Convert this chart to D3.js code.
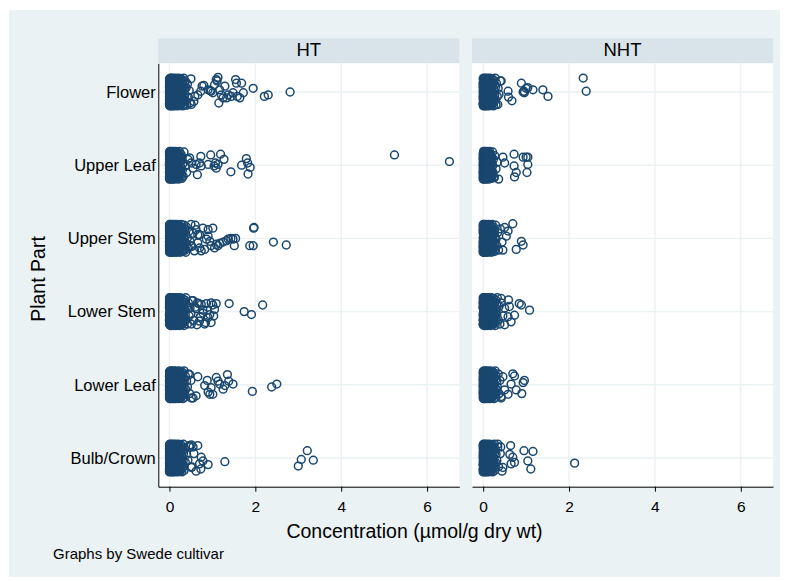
<!DOCTYPE html>
<html>
<head>
<meta charset="utf-8">
<script src="https://cdn.jsdelivr.net/npm/d3@7"></script>
<style>
  body { margin: 0; background: #ffffff; }
  svg { display: block; font-family: "Liberation Sans", Arial, Helvetica, sans-serif; }
</style>
</head>
<body>
<svg id="chart" width="789" height="581"></svg>
<script>
// ---- data -------------------------------------------------------------
const categories = ["Flower", "Upper Leaf", "Upper Stem", "Lower Stem", "Lower Leaf", "Bulb/Crown"];
const panelNames = ["HT", "NHT"];
const xTicks = [0, 2, 4, 6];

// Low concentrations (the bulk of the samples), one string per plant part.
// Each entry is "value in hundredths : number of samples at that value".
const htCore = [
  "0:14 1:10 2:10 3:9 4:9 5:8 6:8 7:7 8:7 9:7 10:6 11:6 12:6 13:5 14:5 15:5 16:5 17:4 18:4 19:4 20:4 21:4 22:4 23:3 24:3 25:3 26:3 27:3 28:3 29:3 30:3 31:2 32:2 33:2 34:2 35:2 36:2 37:1 38:1 39:1 40:1 42:1 44:1 46:1 48:1 50:1",
  "0:14 1:10 2:10 3:9 4:9 5:8 6:8 7:7 8:7 9:6 10:6 11:5 12:5 13:5 14:4 15:4 16:4 17:4 18:3 19:3 20:3 21:3 22:3 23:2 24:2 25:2 26:2 27:2 28:2 29:2 30:1 31:1 32:1 34:1 37:1 40:1 43:1",
  "0:14 1:10 2:10 3:9 4:9 5:8 6:8 7:7 8:7 9:7 10:6 11:6 12:6 13:5 14:5 15:5 16:5 17:4 18:4 19:4 20:4 21:4 22:4 23:3 24:3 25:3 26:3 27:3 28:3 29:3 30:3 31:2 32:2 33:2 34:2 35:2 36:2 37:2 38:1 39:1 40:1 42:1 44:1 46:1 48:1 50:1 52:1 55:1 58:1 62:1 66:1 70:1",
  "0:14 1:10 2:10 3:9 4:9 5:8 6:8 7:7 8:7 9:7 10:6 11:6 12:6 13:5 14:5 15:5 16:5 17:4 18:4 19:4 20:4 21:4 22:4 23:3 24:3 25:3 26:3 27:3 28:3 29:3 30:3 31:2 32:2 33:2 34:2 35:2 36:2 37:2 38:1 39:1 40:1 42:1 44:1 46:1 48:1 50:1 52:1 56:1 60:1 64:1 68:1 72:1 78:1 84:1",
  "0:14 1:10 2:10 3:9 4:9 5:8 6:8 7:7 8:7 9:7 10:6 11:6 12:6 13:5 14:5 15:5 16:5 17:4 18:4 19:4 20:4 21:4 22:4 23:3 24:3 25:3 26:3 27:3 28:3 29:3 30:3 31:2 32:2 33:2 34:2 35:2 36:1 37:1 38:1 40:1 42:1 44:1 47:1 50:1 55:1",
  "0:14 1:10 2:10 3:9 4:9 5:8 6:8 7:7 8:7 9:7 10:6 11:6 12:6 13:5 14:5 15:5 16:5 17:4 18:4 19:4 20:4 21:4 22:3 23:3 24:3 25:3 26:3 27:3 28:3 29:2 30:2 31:2 32:2 33:2 34:1 35:1 37:1 40:1 43:1 47:1 52:1 57:1 62:1"
];
const nhtCore = [
  "0:13 1:10 2:9 3:9 4:8 5:8 6:7 7:7 8:6 9:6 10:6 11:5 12:5 13:5 14:4 15:4 16:4 17:4 18:3 19:3 20:3 21:3 22:3 23:2 24:2 25:2 26:2 27:2 28:2 29:1 30:1 31:1 33:1 35:1 37:1 40:1",
  "0:13 1:10 2:9 3:9 4:8 5:8 6:7 7:7 8:6 9:6 10:5 11:5 12:4 13:4 14:4 15:3 16:3 17:3 18:3 19:2 20:2 21:2 22:2 23:1 24:1 25:1 27:1 30:1 33:1 36:1",
  "0:13 1:10 2:9 3:9 4:8 5:8 6:7 7:7 8:6 9:6 10:6 11:5 12:5 13:5 14:4 15:4 16:4 17:4 18:3 19:3 20:3 21:3 22:3 23:2 24:2 25:2 26:2 27:2 28:2 29:1 30:1 32:1 34:1 36:1 40:1 44:1",
  "0:13 1:10 2:9 3:9 4:8 5:8 6:7 7:7 8:6 9:6 10:6 11:5 12:5 13:5 14:4 15:4 16:4 17:4 18:3 19:3 20:3 21:3 22:3 23:3 24:3 25:2 26:2 27:2 28:2 29:2 30:2 31:1 32:1 33:1 35:1 37:1 39:1 42:1 46:1 50:1",
  "0:13 1:10 2:9 3:9 4:8 5:8 6:7 7:7 8:6 9:6 10:6 11:5 12:5 13:5 14:4 15:4 16:4 17:4 18:3 19:3 20:3 21:3 22:3 23:3 24:3 25:2 26:2 27:2 28:2 29:2 30:2 31:1 32:1 33:1 35:1 37:1 39:1 42:1 46:1 50:1",
  "0:13 1:10 2:9 3:9 4:8 5:8 6:7 7:7 8:6 9:6 10:6 11:5 12:5 13:5 14:4 15:4 16:4 17:4 18:3 19:3 20:3 21:3 22:3 23:2 24:2 25:2 26:2 27:2 28:1 29:1 30:1 32:1 34:1 36:1 40:1 44:1"
];

// Higher concentrations: [value, jitter in category units].
const htFlowerTail = [[0.36,0.18],[0.51,0.17],[0.57,0.13],[0.59,0.06],[0.66,0.04],[0.73,-0.01],[0.76,-0.08],[0.80,-0.09],[0.90,-0.03],[0.95,-0.02],[0.97,-0.01],[1.01,0.01],[1.05,-0.10],[1.09,-0.17],[1.11,-0.15],[1.13,-0.20],[1.15,0.15],[1.17,-0.03],[1.21,0.04],[1.25,0.08],[1.29,-0.08],[1.33,0.08],[1.37,0.04],[1.44,0.06],[1.48,0.01],[1.54,-0.17],[1.56,-0.12],[1.58,0.06],[1.64,0.08],[1.68,-0.12],[1.72,0.01],[1.95,-0.05],[2.21,0.06],[2.30,0.04],[2.81,0.00]];
const htUpperLeafTail = [[0.47,-0.10],[0.51,-0.03],[0.55,0.04],[0.62,-0.01],[0.65,0.13],[0.70,-0.03],[0.73,-0.12],[0.74,0.01],[0.90,-0.01],[0.96,-0.14],[1.04,0.01],[1.07,-0.03],[1.09,0.04],[1.13,-0.01],[1.19,-0.15],[1.27,-0.08],[1.43,0.09],[1.68,0.00],[1.79,-0.09],[1.82,-0.03],[1.88,0.03],[1.83,0.12],[5.24,-0.14],[6.52,-0.05]];
const htUpperStemTail = [[0.51,0.10],[0.60,-0.18],[0.66,-0.05],[0.70,0.13],[0.74,0.17],[0.78,-0.14],[0.82,0.15],[0.86,0.01],[0.90,-0.12],[1.01,-0.14],[0.90,-0.03],[0.94,0.04],[0.97,0.10],[1.05,0.13],[1.09,0.08],[1.13,0.10],[1.17,0.07],[1.25,0.05],[1.33,0.03],[1.37,0.01],[1.43,0.00],[1.48,0.01],[1.54,0.00],[1.51,0.10],[1.87,0.10],[1.95,0.10],[1.97,-0.15],[1.96,-0.14],[2.42,0.05],[2.72,0.09]];
const htLowerStemTail = [[0.55,-0.15],[0.62,-0.04],[0.65,-0.12],[0.72,0.07],[0.74,-0.10],[0.78,0.02],[0.86,-0.11],[0.88,-0.02],[0.97,-0.12],[1.01,-0.09],[1.03,0.06],[1.09,-0.11],[1.05,-0.03],[0.94,0.04],[0.97,0.15],[0.90,0.08],[0.82,0.17],[0.70,0.13],[0.51,0.17],[1.39,-0.11],[1.74,0.00],[1.91,0.04],[2.17,-0.09]];
const htLowerLeafTail = [[0.47,-0.14],[0.51,0.18],[0.62,0.15],[0.66,-0.11],[0.82,0.01],[0.88,-0.06],[0.90,0.10],[0.94,0.13],[0.97,0.04],[1.01,0.13],[1.09,-0.10],[1.13,-0.05],[1.17,-0.01],[1.25,0.06],[1.29,0.01],[1.35,-0.14],[1.38,-0.05],[1.48,-0.01],[1.93,0.09],[2.38,0.03],[2.50,-0.01]];
const htBulbCrownTail = [[0.46,-0.17],[0.51,-0.18],[0.51,0.13],[0.55,-0.15],[0.66,-0.17],[0.70,0.08],[0.73,0.15],[0.74,-0.01],[0.78,0.04],[0.90,0.09],[1.29,0.05],[3.00,0.11],[3.07,0.02],[3.21,-0.10],[3.35,0.03]];

const nhtFlowerTail = [[0.34,0.17],[0.42,-0.15],[0.58,-0.01],[0.59,0.07],[0.67,0.12],[0.89,-0.12],[0.93,0.00],[0.95,-0.01],[0.96,0.01],[1.00,-0.05],[1.04,-0.06],[1.16,-0.03],[1.39,-0.03],[1.51,0.06],[2.33,-0.19],[2.40,-0.01]];
const nhtUpperLeafTail = [[0.22,0.13],[0.26,0.17],[0.46,-0.11],[0.50,-0.03],[0.72,-0.15],[0.72,0.01],[0.73,0.16],[0.77,0.10],[0.93,-0.11],[1.00,-0.11],[1.02,0.10],[1.04,-0.11],[1.04,-0.01]];
const nhtUpperStemTail = [[0.46,0.16],[0.50,-0.15],[0.54,-0.03],[0.58,-0.10],[0.69,-0.20],[0.77,0.15],[0.89,0.04],[0.93,0.09]];
const nhtLowerStemTail = [[0.42,-0.18],[0.50,0.18],[0.58,0.07],[0.59,-0.16],[0.61,-0.07],[0.65,0.14],[0.73,0.05],[0.84,-0.11],[0.89,-0.09],[1.08,-0.02]];
const nhtLowerLeafTail = [[0.42,0.16],[0.58,0.13],[0.65,-0.01],[0.69,-0.15],[0.73,-0.12],[0.77,0.07],[0.90,0.12],[0.93,-0.03],[0.96,-0.06]];
const nhtBulbCrownTail = [[0.34,-0.19],[0.41,-0.15],[0.46,0.13],[0.62,-0.05],[0.64,-0.17],[0.65,0.08],[0.69,-0.01],[0.73,0.06],[0.95,-0.10],[1.04,0.04],[1.11,0.15],[1.16,-0.09],[2.13,0.07]];

// Vertical jitter applied (cyclically) to the low-concentration samples.
const jitterCycle = [0.03,-0.15,0.12,-0.06,0.18,-0.11,0.07,-0.02,0.15,-0.18,0.01,0.10,-0.08,0.16,-0.13,0.05,-0.04,0.19,-0.16,0.09,-0.01,0.13,-0.10,0.04,-0.19,0.11,-0.07,0.17,-0.12,0.06,-0.05];

const tails = {
  HT: [htFlowerTail, htUpperLeafTail, htUpperStemTail, htLowerStemTail, htLowerLeafTail, htBulbCrownTail],
  NHT: [nhtFlowerTail, nhtUpperLeafTail, nhtUpperStemTail, nhtLowerStemTail, nhtLowerLeafTail, nhtBulbCrownTail]
};
const cores = { HT: htCore, NHT: nhtCore };

function expandCore(str) {
  const vals = [];
  str.split(" ").forEach(tok => {
    const [h, n] = tok.split(":").map(Number);
    for (let k = 0; k < n; k++) vals.push(h / 100);
  });
  return vals;
}

function pointsFor(panel) {
  const out = [];
  categories.forEach((cat, ci) => {
    const start = ci * 7 + (panel === "NHT" ? 3 : 0);
    expandCore(cores[panel][ci]).forEach((v, i) => {
      out.push({ cat: ci + 1, value: v, jitter: jitterCycle[(i + start) % jitterCycle.length] });
    });
    tails[panel][ci].forEach(([v, j]) => out.push({ cat: ci + 1, value: v, jitter: j }));
  });
  return out;
}

// ---- layout -----------------------------------------------------------
const svg = d3.select("#chart");
const colors = {
  region: "#eaf2f3",
  strip: "#d8e4ea",
  grid: "#eaf2f3",
  marker: "#1a476f",
  text: "#000000"
};
const plotTop = 63.3, plotBottom = 486.7, plotW = 301;
const panelLeft = { HT: 158.3, NHT: 472 };

svg.append("rect")
  .attr("x", 9).attr("y", 10).attr("width", 771).attr("height", 567)
  .attr("fill", colors.region);

const y = d3.scaleLinear().domain([0.608, 6.392]).range([plotTop, plotBottom]);

panelNames.forEach(panel => {
  const left = panelLeft[panel];
  const x = d3.scaleLinear().domain([-0.26, 6.75]).range([left, left + plotW]);
  const g = svg.append("g");

  // title strip
  g.append("rect").attr("x", left).attr("y", 38.3).attr("width", plotW).attr("height", 25)
    .attr("fill", colors.strip);
  g.append("text").attr("x", left + plotW / 2).attr("y", 56.2)
    .attr("text-anchor", "middle").attr("font-size", 18.5).attr("fill", colors.text)
    .text(panel);

  // plot area
  g.append("rect").attr("x", left).attr("y", plotTop).attr("width", plotW).attr("height", plotBottom - plotTop)
    .attr("fill", "#ffffff");

  // grid
  g.append("g").selectAll("line").data(xTicks).join("line")
    .attr("x1", d => x(d)).attr("x2", d => x(d))
    .attr("y1", plotTop).attr("y2", plotBottom)
    .attr("stroke", colors.grid).attr("stroke-width", 1.4);
  g.append("g").selectAll("line").data(categories.map((c, i) => i + 1)).join("line")
    .attr("x1", left).attr("x2", left + plotW)
    .attr("y1", d => y(d)).attr("y2", d => y(d))
    .attr("stroke", colors.grid).attr("stroke-width", 1.4);

  // markers
  g.append("g").selectAll("circle").data(pointsFor(panel)).join("circle")
    .attr("cx", d => x(d.value))
    .attr("cy", d => y(d.cat + d.jitter))
    .attr("r", 3.9)
    .attr("fill", "none")
    .attr("stroke", colors.marker)
    .attr("stroke-width", 1.5);

  // x axis
  const xAxis = g.append("g").attr("transform", `translate(0,${plotBottom})`)
    .call(d3.axisBottom(x).tickValues(xTicks).tickFormat(d3.format("d")).tickSize(5).tickSizeOuter(0).tickPadding(9));
  xAxis.attr("font-family", null).attr("font-size", null);
  xAxis.selectAll("text").attr("font-size", 15.5).attr("fill", colors.text);
  xAxis.selectAll("line, path").attr("stroke", "#000").attr("stroke-width", 1);

  // y axis (first panel only)
  if (panel === "HT") {
    const yAxis = g.append("g").attr("transform", `translate(${left},0)`)
      .call(d3.axisLeft(y).tickValues(categories.map((c, i) => i + 1))
        .tickFormat(d => categories[d - 1]).tickSize(0).tickSizeOuter(0).tickPadding(2.5));
    yAxis.attr("font-family", null).attr("font-size", null);
    yAxis.selectAll("text").attr("font-size", 16.5).attr("fill", colors.text);
    yAxis.select("path").attr("stroke", "#000").attr("stroke-width", 1);
  }
});

// axis titles and note
svg.append("text")
  .attr("transform", "translate(45,279) rotate(-90)")
  .attr("text-anchor", "middle").attr("font-size", 19.5).attr("fill", colors.text)
  .text("Plant Part");

svg.append("text")
  .attr("x", 414.5).attr("y", 538)
  .attr("text-anchor", "middle").attr("font-size", 19.5).attr("fill", colors.text)
  .text("Concentration (\u00b5mol/g dry wt)");

svg.append("text")
  .attr("x", 53).attr("y", 559)
  .attr("font-size", 15).attr("fill", colors.text)
  .text("Graphs by Swede cultivar");
</script>
</body>
</html>
